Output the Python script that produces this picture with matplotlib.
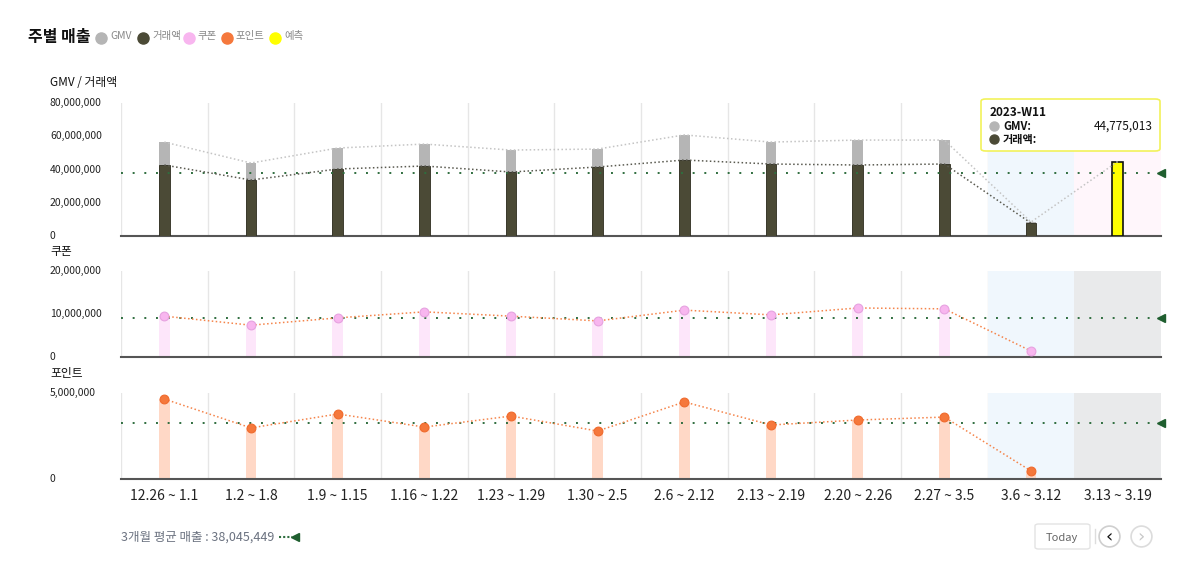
import numpy as np
import matplotlib
matplotlib.use("Agg")
import matplotlib.pyplot as plt
from matplotlib.patches import FancyBboxPatch
from matplotlib.lines import Line2D

plt.rcParams["font.family"] = ["Noto Sans CJK KR", "DejaVu Sans"]

weeks = ["12.26 ~ 1.1", "1.2 ~ 1.8", "1.9 ~ 1.15", "1.16 ~ 1.22", "1.23 ~ 1.29",
         "1.30 ~ 2.5", "2.6 ~ 2.12", "2.13 ~ 2.19", "2.20 ~ 2.26", "2.27 ~ 3.5",
         "3.6 ~ 3.12", "3.13 ~ 3.19"]
gmv = [56.5e6, 43.9e6, 52.9e6, 55.3e6, 51.7e6, 52.3e6, 60.8e6, 56.5e6, 57.7e6, 57.7e6, 8.4e6]
trade = [42.7e6, 33.7e6, 40.3e6, 42.1e6, 38.5e6, 41.5e6, 45.7e6, 43.3e6, 42.7e6, 43.3e6, 7.8e6]
forecast = 44775013
coupon = [9.5e6, 7.4e6, 9.1e6, 10.5e6, 9.5e6, 8.4e6, 10.9e6, 9.8e6, 11.4e6, 11.2e6, 1.4e6]
point = [4.65e6, 2.97e6, 3.78e6, 3.02e6, 3.66e6, 2.79e6, 4.48e6, 3.14e6, 3.43e6, 3.60e6, 0.47e6]
avg_sales = 38045449
avg_coupon = 9.07e6
avg_point = 3.26e6

W, H = 1200, 586
fig = plt.figure(figsize=(12, 5.86), dpi=100)


def fx(px):
    return px / W


def fy(py):
    return 1 - py / H


def make_ax(top, bottom):
    return fig.add_axes([fx(121), fy(bottom), fx(1161) - fx(121), fy(top) - fy(bottom)])


ax1 = make_ax(103, 236)
ax2 = make_ax(271, 357)
ax3 = make_ax(393, 479)

n = len(weeks)
x = np.arange(n)
xa = x[:len(gmv)]
bw = 0.125
green = "#2f6e3f"
dots = (0, (1, 1.6))


def setup(ax, ymax, ticks, labels, title, title_y, last_color):
    ax.set_xlim(-0.5, n - 0.5)
    ax.set_ylim(0, ymax)
    for s in ["top", "right", "left"]:
        ax.spines[s].set_visible(False)
    ax.spines["bottom"].set_color("#555555")
    ax.spines["bottom"].set_linewidth(1.5)
    ax.set_xticks([])
    ax.set_yticks([])
    for b in np.arange(0.5, n - 1, 1.0):
        ax.axvline(b, color="#e6e6e6", lw=1, zorder=0)
    ax.axvline(-0.5, color="#e6e6e6", lw=1, zorder=0)
    ax.axvspan(n - 2.5, n - 1.5, color="#f0f7fd", zorder=0, lw=0)
    ax.axvspan(n - 1.5, n - 0.5, color=last_color, zorder=0, lw=0)
    tr = ax.get_yaxis_transform()
    for t, l in zip(ticks, labels):
        ax.text((50 - 121) / 1040, t, l, transform=tr, ha="left", va="center",
                fontsize=7.5, color="#222222")
    fig.text(fx(50), fy(title_y), title, ha="left", va="center", fontsize=8.5, color="#111111")


setup(ax1, 80e6, [0, 20e6, 40e6, 60e6, 80e6],
      ["0", "20,000,000", "40,000,000", "60,000,000", "80,000,000"],
      "GMV / 거래액", 83, "#fff6fb")
setup(ax2, 20e6, [0, 10e6, 20e6], ["0", "10,000,000", "20,000,000"], "쿠폰", 251, "#e9eaeb")
setup(ax3, 5e6, [0, 5e6], ["0", "5,000,000"], "포인트", 373, "#e9eaeb")

# top panel
ax1.bar(xa, gmv, width=bw, color="#b5b5b5", zorder=2)
ax1.bar(xa, trade, width=bw, color="#4b4a36", edgecolor="#2e2d20", lw=0.6, zorder=3)
ax1.bar(x[-1], forecast, width=bw, color="#ffff00", edgecolor="#111111", lw=1.2, zorder=3)
ax1.plot(list(xa) + [x[-1]], gmv + [forecast], ls=dots, color="#c4c4c4", lw=1.1, zorder=4)
ax1.plot(xa, trade, ls=dots, color="#5a5a50", lw=1.1, zorder=4)

# coupon panel
ax2.bar(xa, coupon, width=bw, color="#fde6fa", zorder=2)
ax2.plot(xa, coupon, ls=dots, color="#f5844a", lw=1.1, zorder=4)
ax2.scatter(xa, coupon, s=40, color="#f8b6ef", edgecolor="#e6a2e0", lw=0.8, zorder=5)

# point panel
ax3.bar(xa, point, width=bw, color="#ffd8c6", zorder=2)
ax3.plot(xa, point, ls=dots, color="#f5844a", lw=1.1, zorder=4)
ax3.scatter(xa, point, s=40, color="#f5783c", edgecolor="#f06a2c", lw=0.8, zorder=5)

# average lines
for ax, v in [(ax1, avg_sales), (ax2, avg_coupon), (ax3, avg_point)]:
    ax.axhline(v, color=green, ls=(0, (1, 5)), lw=1.4, zorder=3)
    ax.plot([n - 0.5], [v], marker="<", color="#1f5e2f", ms=6, clip_on=False, zorder=6)

# x labels
for i, w in enumerate(weeks):
    ax3.text(i, -0.2, w, transform=ax3.get_xaxis_transform(), ha="center", va="center",
             fontsize=10, color="#222222")

# title and legend
fig.text(fx(28), fy(37), "주별 매출", fontsize=11.5, fontweight="bold", ha="left", va="center",
         color="#111111")
legend = [("GMV", "#b5b5b5", 101), ("거래액", "#4b4a36", 143), ("쿠폰", "#f8b6ef", 189),
          ("포인트", "#f5783c", 227), ("예측", "#ffff00", 275)]
for lab, c, px in legend:
    fig.add_artist(Line2D([fx(px)], [fy(38)], marker="o", ms=8, color=c, lw=0,
                          transform=fig.transFigure))
    fig.text(fx(px + 9), fy(36), lab, fontsize=7.5, color="#888888", ha="left", va="center")

# tooltip
fig.add_artist(FancyBboxPatch((fx(981), fy(151)), fx(1160) - fx(981), fy(99) - fy(151),
                              boxstyle="round,pad=0,rounding_size=0.004",
                              transform=fig.transFigure, facecolor="white",
                              edgecolor="#f2f25a", lw=1.2, zorder=10))
fig.text(fx(990), fy(112), "2023-W11", fontsize=8.5, fontweight="bold", ha="left",
         va="center", color="#111111", zorder=11)
for py, lab, c in [(126, "GMV:", "#b5b5b5"), (139, "거래액:", "#4b4a36")]:
    fig.add_artist(Line2D([fx(994)], [fy(py)], marker="o", ms=6.5, color=c, lw=0,
                          transform=fig.transFigure, zorder=11))
    fig.text(fx(1003), fy(py), lab, fontsize=8, fontweight="bold", ha="left", va="center",
             color="#111111", zorder=11)
fig.text(fx(1153), fy(126), f"{forecast:,}", fontsize=8.5, ha="right", va="center",
         color="#111111", zorder=11)

# footer
foot = fig.text(fx(121), fy(537), f"3개월 평균 매출 : {avg_sales:,}", fontsize=9,
                color="#6b7280", ha="left", va="center")
fig.canvas.draw()
end = foot.get_window_extent().x1
fig.add_artist(Line2D([fx(end + 5), fx(end + 18)], [fy(537), fy(537)], color=green,
                      ls=(0, (1, 1)), lw=1.5, transform=fig.transFigure))
fig.add_artist(Line2D([fx(end + 21)], [fy(537)], marker="<", color="#1f5e2f", ms=6, lw=0,
                      transform=fig.transFigure))

# buttons
fig.add_artist(FancyBboxPatch((fx(1035), fy(549)), fx(1090) - fx(1035), fy(524) - fy(549),
                              boxstyle="round,pad=0,rounding_size=0.003",
                              transform=fig.transFigure, facecolor="white",
                              edgecolor="#e3e3e3", lw=1))
fig.text(fx(1062), fy(538), "Today", fontsize=8, color="#666666", ha="center", va="center")
fig.add_artist(Line2D([fx(1095), fx(1095)], [fy(529), fy(543)], color="#dddddd", lw=1,
                      transform=fig.transFigure))
for px, c, tc, glyph in [(1109, "#cfcfcf", "#111111", "‹"), (1141, "#dcdcdc", "#c8c8c8", "›")]:
    fig.add_artist(Line2D([fx(px)], [fy(536)], marker="o", ms=15, mfc="white", mec=c, mew=1.2,
                          lw=0, transform=fig.transFigure))
    fig.text(fx(px), fy(537.5), glyph, fontsize=13, color=tc, ha="center", va="center",
             family=["DejaVu Sans"])

fig.savefig("out.png", dpi=100, facecolor="white")
